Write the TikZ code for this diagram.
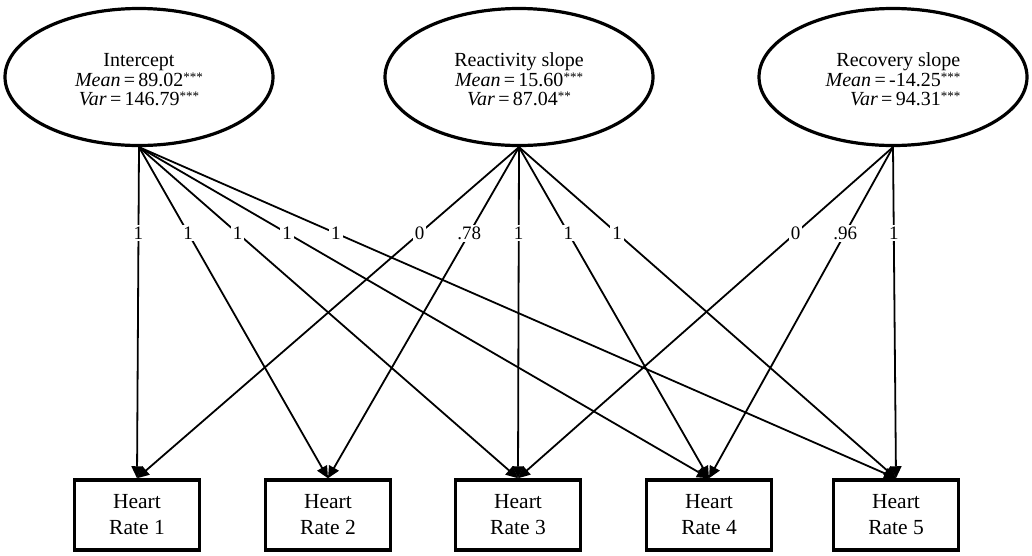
\documentclass[tikz,border=0pt]{standalone}
\usepackage{fontspec}
\setmainfont{Liberation Serif}
\usetikzlibrary{shapes.geometric,arrows.meta}
\newcommand{\topstrut}{\rule{0pt}{19pt}}
\newcommand{\stars}[1]{\raisebox{5pt}{\fontsize{13}{13}\selectfont #1}}
\begin{document}
\begin{tikzpicture}[x=1pt,y=-1pt,
 latent/.style={ellipse,draw,line width=3.2pt,minimum width=268pt,minimum height=137pt,align=center,font=\fontsize{20}{19.5}\selectfont,inner sep=0pt},
 obs/.style={rectangle,draw,line width=3.5pt,minimum width=125pt,minimum height=70pt,align=center,font=\fontsize{21.5}{26}\selectfont,inner sep=0pt},
 load/.style={line width=1.8pt,-{Triangle[length=12pt,width=11pt]}},
 lab/.style={fill=white,font=\fontsize{19}{19}\selectfont,inner sep=2pt,pos=0.26}]
\useasboundingbox (0,0) rectangle (1032,555);
\node[latent] (I) at (139,77) {\topstrut Intercept\\ \textit{Mean}\,=\,89.02\stars{***}\\ \textit{Var}\,=\,146.79\stars{***}};
\node[latent] (R) at (519,77) {\topstrut Reactivity slope\\ \textit{Mean}\,=\,15.60\stars{***}\\ \textit{Var}\,=\,87.04\stars{**}};
\node[latent,align=right] (C) at (893,77) {\topstrut Recovery slope\\ \textit{Mean}\,=\,-14.25\stars{***}\\ \textit{Var}\,=\,94.31\stars{***}};
\node[obs] (h1) at (137,515) {Heart\\Rate 1};
\node[obs] (h2) at (328,515) {Heart\\Rate 2};
\node[obs] (h3) at (518,515) {Heart\\Rate 3};
\node[obs] (h4) at (709,515) {Heart\\Rate 4};
\node[obs] (h5) at (896,515) {Heart\\Rate 5};
\draw[load] (I.south) -- node[lab] {1} (h1.north);
\draw[load] (I.south) -- node[lab] {1} (h2.north);
\draw[load] (I.south) -- node[lab] {1} (h3.north);
\draw[load] (I.south) -- node[lab] {1} (h4.north);
\draw[load] (I.south) -- node[lab] {1} (h5.north);
\draw[load] (R.south) -- node[lab] {0} (h1.north);
\draw[load] (R.south) -- node[lab] {.78} (h2.north);
\draw[load] (R.south) -- node[lab] {1} (h3.north);
\draw[load] (R.south) -- node[lab] {1} (h4.north);
\draw[load] (R.south) -- node[lab] {1} (h5.north);
\draw[load] (C.south) -- node[lab] {0} (h3.north);
\draw[load] (C.south) -- node[lab] {.96} (h4.north);
\draw[load] (C.south) -- node[lab] {1} (h5.north);
\end{tikzpicture}
\end{document}
